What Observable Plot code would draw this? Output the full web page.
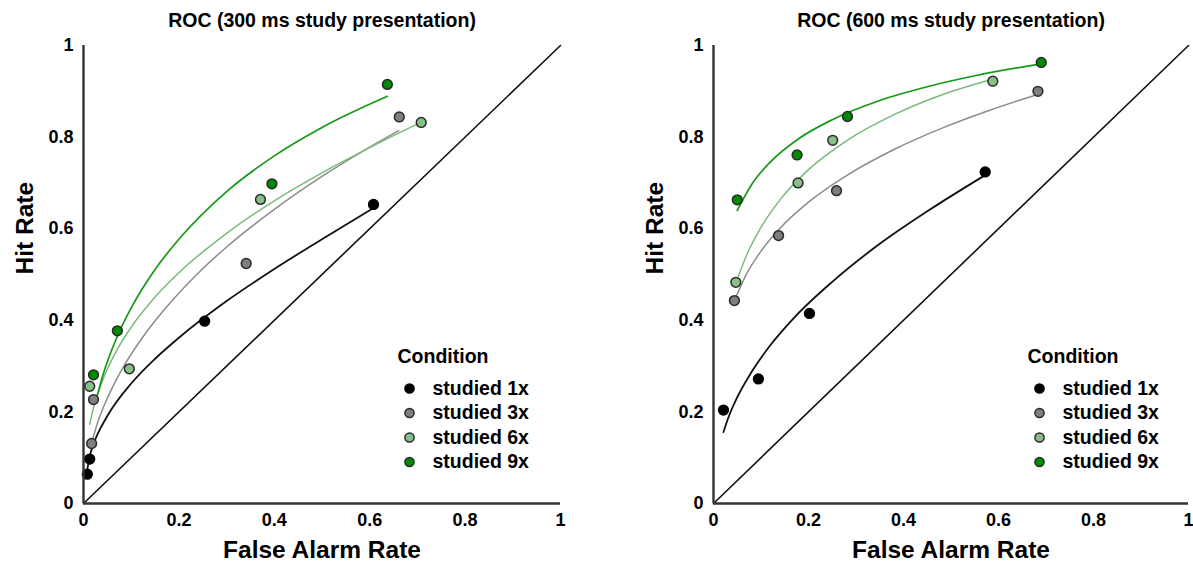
<!DOCTYPE html>
<html><head><meta charset="utf-8">
<script src="https://cdn.jsdelivr.net/npm/d3@7"></script>
<script src="https://cdn.jsdelivr.net/npm/@observablehq/plot@0.6"></script>
<style>
html,body{margin:0;padding:0;background:#fff;width:1193px;height:565px;overflow:hidden;}
#left{position:absolute;left:0;top:0;}
#right{position:absolute;left:630px;top:0;}
</style></head><body>
<div id="left"></div><div id="right"></div>
<script>
// ---- categories / styling keys ----
const conditions = ["studied 1x", "studied 3x", "studied 6x", "studied 9x"];
const pointFill  = ["#000000", "#7f7f7f", "#86c086", "#008a00"];
const lineStroke = ["#111111", "#8c8c8c", "#7cb97c", "#169916"];
const lineWidth  = [1.8, 1.5, 1.5, 1.7];
const tickValues = [0, 0.2, 0.4, 0.6, 0.8, 1];
const tickLabels = ["0", "0.2", "0.4", "0.6", "0.8", "1"];
const chance = [0, 1];
const titles = ["ROC (300 ms study presentation)", "ROC (600 ms study presentation)"];

// ---- 300 ms: observed points (one list per condition) ----
const fa300  = [[0.008, 0.013, 0.254, 0.608], [0.017, 0.021, 0.341, 0.662], [0.013, 0.096, 0.371, 0.708], [0.021, 0.071, 0.395, 0.637]];
const hit300 = [[0.064, 0.097, 0.398, 0.653], [0.131, 0.227, 0.524, 0.844], [0.256, 0.294, 0.664, 0.832], [0.281, 0.377, 0.698, 0.915]];
// ---- 300 ms: fitted curves ----
const curveFa300  = [
  [0.007, 0.013, 0.02, 0.05, 0.1, 0.15, 0.2, 0.3, 0.4, 0.5, 0.608],
  [0.0174, 0.03, 0.05, 0.08, 0.12, 0.17, 0.225, 0.3, 0.4, 0.5, 0.6, 0.661],
  [0.013, 0.02, 0.04, 0.07, 0.1, 0.15, 0.2, 0.3, 0.4, 0.5, 0.6, 0.707],
  [0.026, 0.04, 0.07, 0.1, 0.15, 0.2, 0.3, 0.4, 0.5, 0.637]];
const curveHit300 = [
  [0.068, 0.103, 0.127, 0.191, 0.262, 0.316, 0.362, 0.442, 0.512, 0.577, 0.645],
  [0.134, 0.178, 0.230, 0.292, 0.357, 0.424, 0.487, 0.560, 0.642, 0.714, 0.778, 0.814],
  [0.173, 0.205, 0.269, 0.335, 0.385, 0.451, 0.504, 0.590, 0.661, 0.722, 0.777, 0.832],
  [0.225, 0.278, 0.363, 0.427, 0.511, 0.577, 0.681, 0.759, 0.821, 0.889]];

// ---- 600 ms: observed points ----
const fa600  = [[0.021, 0.0945, 0.202, 0.572], [0.044, 0.137, 0.259, 0.683], [0.047, 0.178, 0.251, 0.588], [0.050, 0.176, 0.282, 0.690]];
const hit600 = [[0.204, 0.272, 0.415, 0.724], [0.443, 0.585, 0.683, 0.900], [0.483, 0.700, 0.793, 0.922], [0.663, 0.761, 0.845, 0.963]];
// ---- 600 ms: fitted curves ----
const curveFa600  = [
  [0.021, 0.03, 0.05, 0.08, 0.12, 0.17, 0.25, 0.35, 0.45, 0.572],
  [0.044, 0.07, 0.1, 0.14, 0.2, 0.28, 0.38, 0.48, 0.58, 0.679],
  [0.047, 0.07, 0.1, 0.14, 0.2, 0.28, 0.38, 0.48, 0.58],
  [0.05, 0.08, 0.12, 0.18, 0.25, 0.35, 0.45, 0.55, 0.69]];
const curveHit600 = [
  [0.156, 0.184, 0.232, 0.287, 0.346, 0.406, 0.484, 0.567, 0.638, 0.717],
  [0.443, 0.502, 0.551, 0.601, 0.658, 0.716, 0.773, 0.819, 0.858, 0.892],
  [0.48, 0.543, 0.603, 0.663, 0.729, 0.792, 0.849, 0.892, 0.924],
  [0.640, 0.696, 0.746, 0.797, 0.838, 0.880, 0.910, 0.934, 0.960]];

const FONT = "'Liberation Sans', Arial, Helvetica, sans-serif";

function rows(faList, hitList) {
  const out = [];
  faList.forEach((fa, i) => fa.forEach((x, j) => out.push({cond: conditions[i], idx: i, x, y: hitList[i][j]})));
  return out;
}

function panel(title, fa, hit, cfa, chit, width, marginRight) {
  const pts = rows(fa, hit);
  const marks = [
    Plot.line(chance, {x: d => d, y: d => d, stroke: "#111", strokeWidth: 1.6}),
  ];
  conditions.forEach((c, i) => {
    const curve = cfa[i].map((x, j) => ({x, y: chit[i][j]}));
    marks.push(Plot.line(curve, {x: "x", y: "y", curve: "monotone-x", stroke: lineStroke[i], strokeWidth: lineWidth[i]}));
  });
  marks.push(Plot.dot(pts, {x: "x", y: "y", r: 4.9, fill: d => pointFill[d.idx], stroke: d => d.idx === 0 ? "#000" : "#2a2a2a", strokeWidth: 1.5}));
  marks.push(Plot.ruleX([0], {y1: 0, y2: 1, stroke: "#333", strokeWidth: 2.4}));
  marks.push(Plot.ruleY([0], {x1: 0, x2: 1, stroke: "#333", strokeWidth: 2.4}));
  marks.push(Plot.axisX({ticks: tickValues, tickFormat: (d) => tickLabels[tickValues.indexOf(d)], tickSize: 0, tickPadding: 10, label: null, fontSize: 18, fontWeight: "bold"}));
  marks.push(Plot.axisY({ticks: tickValues, tickFormat: (d) => tickLabels[tickValues.indexOf(d)], tickSize: 0, tickPadding: 10, label: null, fontSize: 18, fontWeight: "bold"}));
  // titles and axis labels
  marks.push(Plot.text([title], {frameAnchor: "top", lineAnchor: "middle", dy: -25, fontSize: 19.5, fontWeight: "bold", text: d => d}));
  marks.push(Plot.text(["Hit Rate"], {frameAnchor: "left", lineAnchor: "middle", dx: -58, rotate: -90, fontSize: 24.5, fontWeight: "bold", text: d => d}));
  marks.push(Plot.text(["False Alarm Rate"], {frameAnchor: "bottom", lineAnchor: "middle", dy: 47, fontSize: 24.5, fontWeight: "bold", text: d => d}));
  // legend
  marks.push(Plot.text(["Condition"], {frameAnchor: "top-left", lineAnchor: "middle", dx: 314, dy: 311, textAnchor: "start", fontSize: 19.5, fontWeight: "bold", text: d => d}));
  conditions.forEach((c, i) => {
    marks.push(Plot.dot([c], {frameAnchor: "top-left", dx: 326, dy: 343 + 24.5 * i, r: 4.6, fill: pointFill[i], stroke: i === 0 ? "#000" : "#2a2a2a", strokeWidth: 1.5}));
    marks.push(Plot.text([c], {frameAnchor: "top-left", lineAnchor: "middle", dx: 349, dy: 343 + 24.5 * i, textAnchor: "start", fontSize: 19.5, fontWeight: "bold", text: d => d}));
  });
  return Plot.plot({
    width, height: 565,
    marginLeft: 83, marginRight, marginTop: 45, marginBottom: 62,
    x: {domain: [0, 1]},
    y: {domain: [0, 1]},
    style: {fontFamily: FONT, fontSize: "18px", fontWeight: "bold", background: "transparent", overflow: "visible", color: "#000"},
    marks
  });
}

document.getElementById("left").appendChild(panel(titles[0], fa300, hit300, curveFa300, curveHit300, 596, 36));
document.getElementById("right").appendChild(panel(titles[1], fa600, hit600, curveFa600, curveHit600, 563, 5));
</script>
</body></html>
